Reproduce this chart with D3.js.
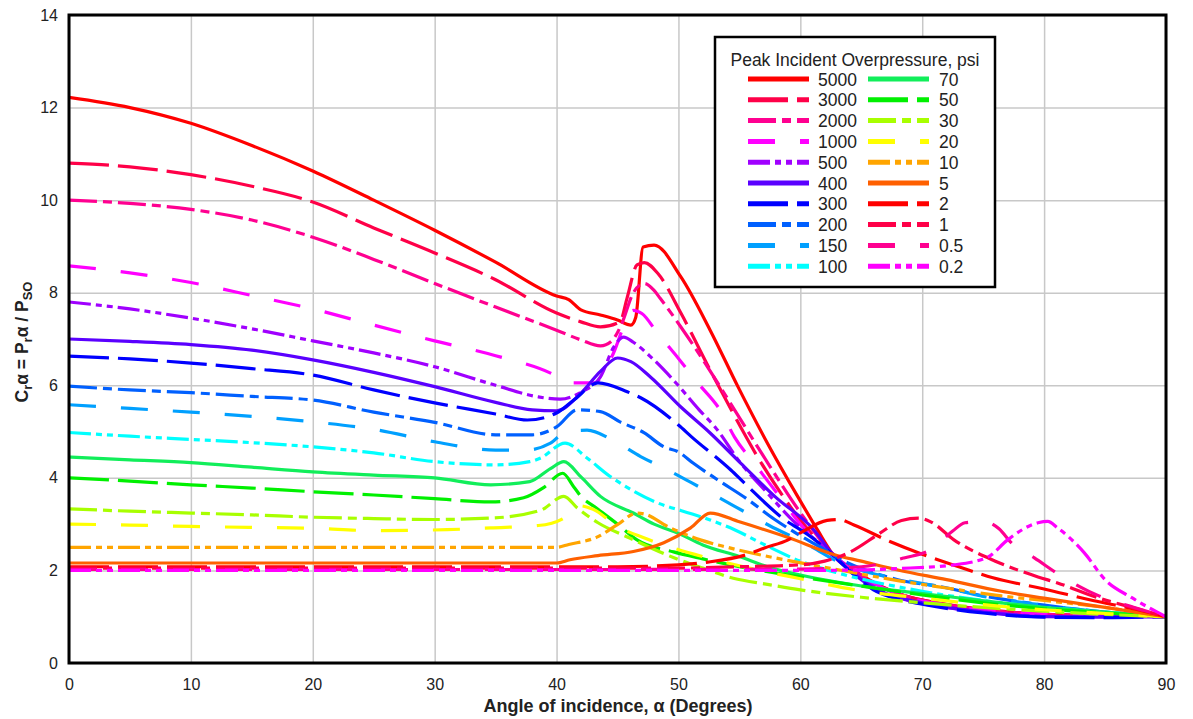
<!DOCTYPE html>
<html lang="en">
<head>
<meta charset="UTF-8">
<title>Reflection coefficient vs angle of incidence</title>
<script src="https://cdnjs.cloudflare.com/ajax/libs/d3/7.8.5/d3.min.js"></script>
<style>
  body { margin: 0; background: #fff; }
  svg { font-family: Arial, "Liberation Sans", sans-serif; }
  .tick text { font-size: 16px; fill: #222; }
</style>
</head>
<body>
<svg id="chart" width="1193" height="719"></svg>
<script>
// curve values: [angle (deg), C_ra]
const cr5000 = [[0,12.22],[5,12.0],[10,11.66],[15,11.18],[20,10.63],[25,10.0],[30,9.35],[35,8.66],[40,7.93],[41,7.85],[42,7.63],[43.6,7.52],[45,7.41],[46.1,7.3],[46.5,7.47],[47.1,8.99],[48,9.03],[50.2,8.34],[52.6,7.19],[54.9,5.96],[57.3,4.75],[59.8,3.59],[61.4,2.88],[62.8,2.3],[65,1.9],[68,1.5],[72,1.27],[76,1.13],[80,1.05],[85,1.02],[90,1.0]];
const cr3000 = [[0,10.8],[5,10.72],[10,10.55],[15,10.3],[20,9.96],[25,9.4],[30,8.86],[35,8.28],[40,7.56],[42,7.37],[43.6,7.26],[45.2,7.37],[45.8,7.9],[46.6,8.6],[47.2,8.65],[48.3,8.42],[50.2,7.56],[52.6,6.33],[55.1,5.1],[56.5,4.45],[58.8,3.52],[60,3.09],[62.5,2.37],[65,1.88],[68,1.5],[72,1.26],[76,1.12],[80,1.05],[85,1.02],[90,1.0]];
const cr2000 = [[0,10.0],[5,9.93],[10,9.8],[15,9.57],[20,9.2],[25,8.72],[30,8.2],[35,7.69],[40,7.19],[42,6.98],[43.6,6.85],[44.5,6.95],[45.3,7.3],[46.3,8.0],[47.2,8.2],[48,8.05],[48.5,7.88],[50.2,7.26],[52.5,6.35],[55,5.3],[57.5,4.25],[60,3.25],[62.5,2.4],[65,1.9],[68,1.5],[72,1.26],[76,1.12],[80,1.05],[85,1.02],[90,1.0]];
const cr1000 = [[0,8.58],[5,8.43],[10,8.22],[15,7.94],[20,7.65],[25,7.3],[30,6.96],[35,6.64],[40,6.2],[41,6.05],[43.1,6.05],[44.5,6.6],[46.3,7.62],[47,7.55],[48.3,7.12],[50,6.58],[51.6,6.05],[53.5,5.43],[54.6,4.88],[56.2,4.32],[58,3.7],[60,3.0],[62.5,2.35],[65,1.88],[68,1.48],[72,1.25],[76,1.12],[80,1.05],[85,1.02],[90,1.0]];
const cr500 = [[0,7.8],[5,7.65],[10,7.45],[15,7.22],[20,6.96],[25,6.7],[30,6.4],[35,6.0],[38.5,5.75],[40.3,5.7],[42,5.85],[43.6,6.18],[44.7,6.83],[45.5,7.04],[46.3,6.93],[47.7,6.62],[49.8,6.05],[51.7,5.47],[53,5.1],[55.1,4.32],[57.3,3.67],[59.5,3.05],[62.5,2.4],[65,1.82],[68,1.42],[72,1.2],[76,1.08],[80,1.01],[85,1.0],[90,1.0]];
const cr400 = [[0,7.0],[5,6.95],[10,6.88],[15,6.76],[20,6.55],[25,6.28],[30,5.97],[35,5.63],[38,5.47],[40,5.45],[42,5.83],[43.6,6.3],[45,6.59],[46.1,6.51],[47.7,6.18],[50.2,5.53],[52.6,4.97],[55.1,4.32],[57.9,3.6],[61.1,2.88],[62.8,2.3],[64.5,1.9],[66,1.62],[68,1.42],[70,1.3],[75,1.1],[80,1.0],[85,0.99],[90,1.0]];
const cr300 = [[0,6.63],[5,6.57],[10,6.48],[15,6.36],[20,6.22],[25,5.9],[30,5.62],[35,5.38],[37.6,5.25],[40,5.4],[41.5,5.7],[43.4,6.05],[45.8,5.86],[46.9,5.73],[50,5.14],[51.1,4.88],[54.3,4.17],[55.4,3.89],[58.4,3.16],[61,2.7],[62.8,2.3],[64.5,1.88],[66,1.58],[68,1.38],[70,1.27],[75,1.08],[80,0.99],[85,0.98],[90,1.0]];
const cr200 = [[0,5.98],[5,5.9],[10,5.84],[15,5.76],[20,5.68],[25,5.42],[30,5.2],[35,4.93],[38,4.93],[40,5.1],[41.7,5.47],[43.6,5.43],[45.2,5.21],[47.2,4.97],[48.8,4.67],[50,4.56],[51.2,4.32],[53.2,3.96],[55.7,3.53],[57.9,3.1],[60,2.75],[62,2.45],[64,2.15],[66,1.95],[68,1.8],[71.5,1.65],[75,1.45],[80,1.25],[85,1.1],[90,1.0]];
const cr150 = [[0,5.58],[5,5.5],[10,5.42],[15,5.33],[20,5.21],[25,5.05],[30,4.78],[35,4.6],[37.5,4.6],[39.5,4.75],[40.8,5.0],[42.5,5.03],[44.7,4.8],[46.9,4.46],[48.9,4.2],[51.1,3.89],[53.2,3.59],[55.4,3.27],[57.6,2.95],[59,2.77],[61,2.5],[63,2.2],[65,2.0],[68,1.82],[71.8,1.63],[75,1.44],[80,1.25],[85,1.1],[90,1.0]];
const cr100 = [[0,4.98],[5,4.9],[10,4.83],[15,4.76],[20,4.67],[25,4.54],[30,4.35],[35,4.28],[37.8,4.35],[38.7,4.43],[40.7,4.75],[42.5,4.43],[44.4,4.03],[45.2,3.89],[49.1,3.38],[50,3.31],[52.6,3.09],[54.6,2.88],[56.8,2.59],[60,2.2],[63,1.95],[67,1.7],[70,1.55],[75,1.35],[80,1.2],[85,1.1],[90,1.0]];
const cr70 = [[0,4.45],[5,4.39],[10,4.33],[15,4.23],[20,4.13],[25,4.06],[30,4.0],[34.6,3.85],[37.8,3.92],[39.5,4.2],[40.6,4.35],[42,4.02],[43.6,3.6],[46.3,3.24],[48,3.0],[50,2.8],[52,2.55],[55,2.3],[57.3,2.08],[60,1.9],[63,1.75],[67.4,1.58],[70,1.5],[76.5,1.3],[80,1.2],[85,1.1],[90,1.0]];
const cr50 = [[0,4.0],[5,3.93],[10,3.85],[15,3.78],[20,3.7],[25,3.63],[30,3.55],[34.6,3.48],[37.3,3.57],[39,3.8],[40.5,4.1],[41.4,3.81],[42,3.6],[43.1,3.38],[45,3.0],[46.6,2.66],[49.6,2.4],[52,2.25],[55,2.08],[60,1.86],[65,1.66],[70,1.47],[75,1.3],[80,1.17],[85,1.08],[90,1.0]];
const cr30 = [[0,3.33],[5,3.28],[10,3.24],[15,3.2],[20,3.15],[25,3.12],[30,3.1],[34.6,3.13],[38.7,3.3],[40.6,3.6],[41.7,3.35],[43.4,3.03],[46,2.7],[49.1,2.33],[52,2.05],[54.5,1.83],[57.3,1.7],[60,1.58],[65,1.42],[70,1.3],[75,1.2],[80,1.12],[85,1.05],[90,1.0]];
const cr20 = [[0,3.0],[5,2.98],[10,2.95],[15,2.93],[20,2.91],[25,2.86],[31,2.88],[34.6,2.92],[38.5,2.97],[40.6,3.13],[41.8,3.4],[43,3.32],[45,2.95],[47,2.72],[49.4,2.5],[52,2.3],[55,2.1],[60,1.82],[65,1.56],[70,1.4],[75,1.26],[80,1.15],[85,1.07],[90,1.0]];
const cr10 = [[0,2.5],[10,2.5],[20,2.5],[30,2.5],[40,2.5],[41,2.56],[43.4,2.73],[45,2.99],[46.6,3.24],[47.2,3.22],[49.1,2.95],[51.8,2.66],[54,2.5],[58.7,2.23],[63,2.02],[68,1.78],[72,1.62],[76.5,1.45],[80,1.35],[85,1.2],[90,1.0]];
const cr5 = [[0,2.16],[20,2.16],[40,2.16],[41.1,2.23],[43.4,2.32],[46.3,2.41],[48.8,2.6],[51,2.92],[52.6,3.24],[55,3.05],[59,2.71],[62.8,2.34],[65,2.2],[68,2.01],[72,1.8],[76.5,1.55],[80,1.4],[85,1.2],[90,1.0]];
const cr2 = [[0,2.08],[20,2.08],[40,2.08],[45,2.08],[50,2.12],[52.4,2.18],[55.7,2.35],[57,2.48],[59,2.66],[60,2.81],[62.2,3.08],[63.2,3.1],[64.4,2.98],[67.4,2.62],[70,2.35],[73,2.08],[75.8,1.84],[80,1.6],[84,1.35],[87.7,1.15],[90,1.0]];
const cr1 = [[0,2.05],[20,2.05],[40,2.05],[50,2.05],[55,2.08],[60,2.12],[62,2.2],[64.1,2.4],[66.5,2.8],[68.3,3.08],[69.7,3.13],[70.7,3.05],[72.6,2.66],[76,2.2],[79.5,1.86],[81.1,1.73],[84.4,1.41],[87.5,1.18],[90,1.0]];
const cr05 = [[0,2.02],[20,2.02],[40,2.02],[60,2.03],[65,2.08],[68.5,2.27],[70.7,2.45],[72.5,2.85],[73.5,3.03],[75,3.06],[76.3,2.9],[77.3,2.6],[79.2,2.27],[81.9,1.8],[84.5,1.45],[87.4,1.2],[90,1.0]];
const cr02 = [[0,2.0],[20,2.0],[40,2.0],[60,2.0],[65,2.01],[68,2.04],[72.6,2.12],[75.4,2.29],[77,2.66],[79.5,3.03],[80.3,3.06],[81.1,2.92],[83.3,2.38],[85,1.8],[87.2,1.41],[90,1.0]];

const pressures = ['5000','3000','2000','1000','500','400','300','200','150','100',
                   '70','50','30','20','10','5','2','1','0.5','0.2'];
const curves = [cr5000,cr3000,cr2000,cr1000,cr500,cr400,cr300,cr200,cr150,cr100,
                cr70,cr50,cr30,cr20,cr10,cr5,cr2,cr1,cr05,cr02];
const xTicks = [0,10,20,30,40,50,60,70,80,90];
const yTicks = [0,2,4,6,8,10,12,14];

// styles
const colors = ['#ff0000','#ff0048','#ff0090','#ff00ff','#a000ff','#5a00ff','#0000ff','#0060ff','#00a0ff','#00ffff',
                '#11ee5a','#00f000','#a8ff00','#ffff00','#ffa500','#ff6000','#ff0000','#ff0048','#ff0090','#ff00ff'];
const dashes = [null, '40,9', '28,6,9,6', '27,25', '22,5,6,5,6,5'];

window.addEventListener('load', function() {
  const left = 69, right = 1166, top = 15, bottom = 663;
  const svg = d3.select('#chart');

  const x = d3.scaleLinear().domain([0, 90]).range([left, right]);
  const y = d3.scaleLinear().domain([0, 14]).range([bottom, top]);

  // grid
  svg.append('g')
    .attr('transform', `translate(0,${bottom})`)
    .call(d3.axisBottom(x).tickValues(xTicks).tickSize(-(bottom - top)).tickFormat(''))
    .call(g => g.select('.domain').remove())
    .call(g => g.selectAll('line').attr('stroke', '#c8c8c8').attr('stroke-width', 1.5));
  svg.append('g')
    .attr('transform', `translate(${left},0)`)
    .call(d3.axisLeft(y).tickValues(yTicks).tickSize(-(right - left)).tickFormat(''))
    .call(g => g.select('.domain').remove())
    .call(g => g.selectAll('line').attr('stroke', '#c8c8c8').attr('stroke-width', 1.5));

  // tick labels
  svg.append('g')
    .attr('transform', `translate(0,${bottom})`)
    .call(d3.axisBottom(x).tickValues(xTicks).tickSize(0).tickPadding(16))
    .call(g => g.select('.domain').remove());
  svg.append('g')
    .attr('transform', `translate(${left},0)`)
    .call(d3.axisLeft(y).tickValues(yTicks).tickSize(0).tickPadding(11))
    .call(g => g.select('.domain').remove());

  svg.append('clipPath').attr('id', 'plotclip')
    .append('rect').attr('x', left).attr('y', top).attr('width', right - left).attr('height', bottom - top);

  const line = d3.line()
    .x(d => x(d[0]))
    .y(d => y(d[1]))
    .curve(d3.curveMonotoneX);

  svg.append('g').attr('clip-path', 'url(#plotclip)')
    .selectAll('path')
    .data(curves)
    .enter()
    .append('path')
    .attr('d', line)
    .attr('fill', 'none')
    .attr('stroke', (d, i) => colors[i])
    .attr('stroke-width', 3.2)
    .attr('stroke-dasharray', (d, i) => dashes[i % 5]);

  // frame
  svg.append('rect')
    .attr('x', left).attr('y', top)
    .attr('width', right - left).attr('height', bottom - top)
    .attr('fill', 'none').attr('stroke', '#000').attr('stroke-width', 3);

  // axis titles
  svg.append('text')
    .attr('x', 618).attr('y', 712)
    .attr('text-anchor', 'middle')
    .attr('font-size', 18).attr('font-weight', 'bold').attr('fill', '#222')
    .text('Angle of incidence, α (Degrees)');

  const yt = svg.append('text')
    .attr('transform', 'translate(28,342) rotate(-90)')
    .attr('text-anchor', 'middle')
    .attr('font-size', 17.5).attr('font-weight', 'bold').attr('fill', '#222');
  yt.append('tspan').text('C');
  yt.append('tspan').attr('font-size', 13).attr('dy', 4).text('r');
  yt.append('tspan').attr('dy', -4).text('α = P');
  yt.append('tspan').attr('font-size', 13).attr('dy', 4).text('r');
  yt.append('tspan').attr('dy', -4).text('α / P');
  yt.append('tspan').attr('font-size', 13).attr('dy', 4).text('SO');

  // legend
  const lg = svg.append('g');
  lg.append('rect')
    .attr('x', 715).attr('y', 37).attr('width', 280).attr('height', 250)
    .attr('fill', '#fff').attr('stroke', '#000').attr('stroke-width', 2.5);
  lg.append('text')
    .attr('x', 855).attr('y', 66)
    .attr('text-anchor', 'middle').attr('font-size', 17.5).attr('fill', '#222')
    .text('Peak Incident Overpressure, psi');

  const items = lg.selectAll('g.item')
    .data(pressures)
    .enter()
    .append('g')
    .attr('class', 'item')
    .attr('transform', (d, i) => `translate(${i < 10 ? 748 : 868},${79 + (i % 10) * 20.8})`);
  items.append('line')
    .attr('x1', 0).attr('x2', 61).attr('y1', 0).attr('y2', 0)
    .attr('stroke', (d, i) => colors[i])
    .attr('stroke-width', 5)
    .attr('stroke-dasharray', (d, i) => dashes[i % 5]);
  items.append('text')
    .attr('x', (d, i) => i < 10 ? 70 : 71).attr('y', 6.5)
    .attr('font-size', 17.5).attr('fill', '#222')
    .text(d => d);
});
</script>
</body>
</html>
